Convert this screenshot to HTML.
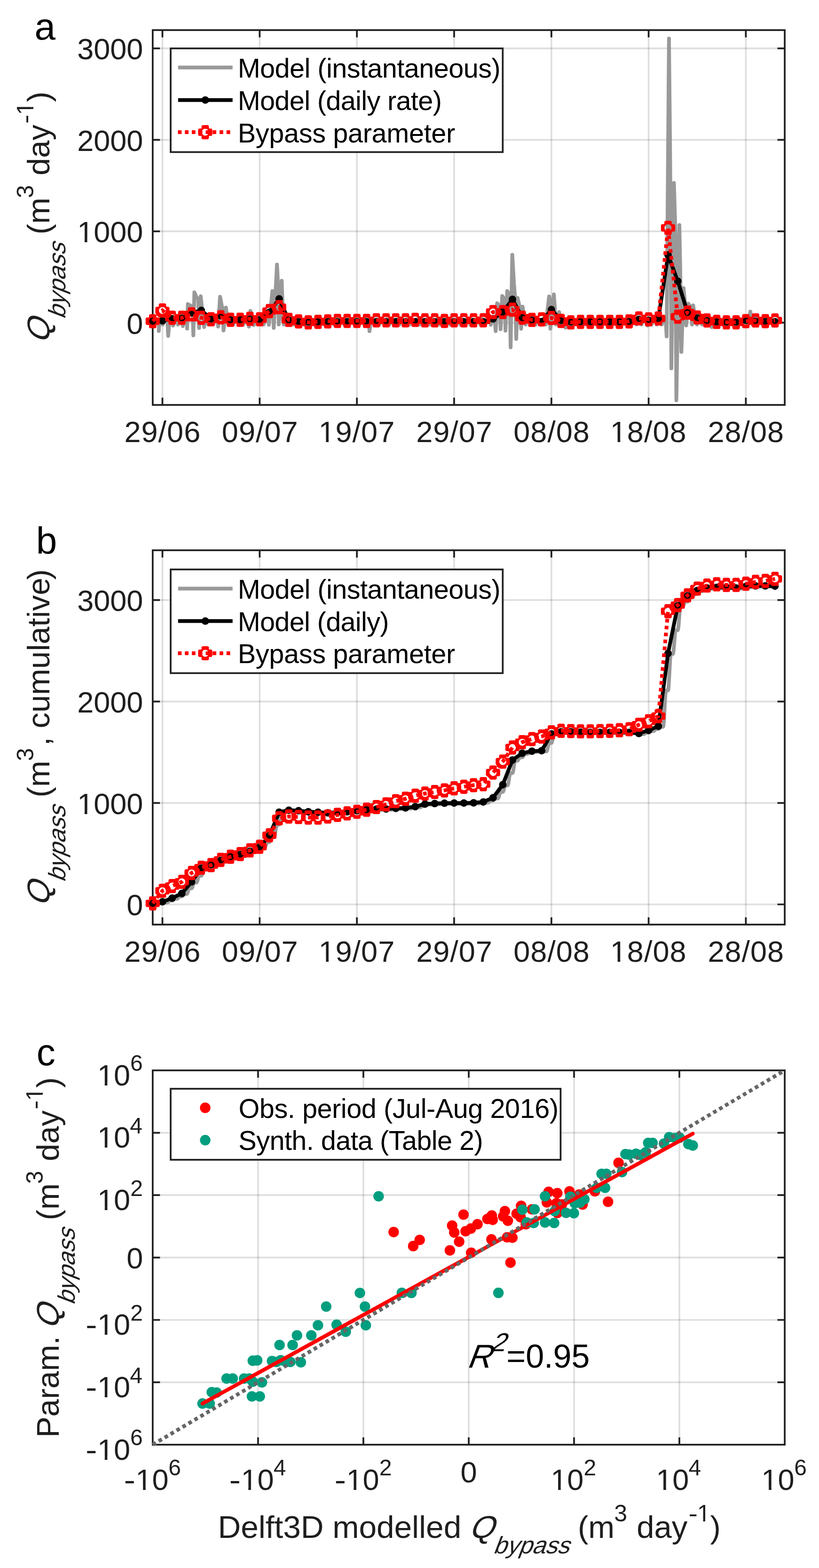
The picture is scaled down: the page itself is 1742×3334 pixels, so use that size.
<!DOCTYPE html>
<html lang="en"><head><meta charset="utf-8"><title>Bypass flux: model vs. parameterisation</title>
<style>html,body{margin:0;padding:0;background:#fff}svg{display:block}text{font-family:"Liberation Sans", Arial, Helvetica, sans-serif}</style>
</head><body>
<svg width="1742" height="3334" viewBox="0 0 1742 3334">
<rect width="1742" height="3334" fill="#fff"/>
<defs><path id="rm" d="M-4.30 -15.1H4.30Q7.9 -15.1 7.9 -11.50V-7.9H11.50Q15.1 -7.9 15.1 -4.30V4.30Q15.1 7.9 11.50 7.9H7.9V11.50Q7.9 15.1 4.30 15.1H-4.30Q-7.9 15.1 -7.9 11.50V7.9H-11.50Q-15.1 7.9 -15.1 4.30V-4.30Q-15.1 -7.9 -11.50 -7.9H-7.9V-11.50Q-7.9 -15.1 -4.30 -15.1ZM7.4 0A7.4 7.4 0 1 0 -7.4 0A7.4 7.4 0 1 0 7.4 0Z" fill="#f00" fill-rule="evenodd"/>
<clipPath id="ca"><rect x="324.8" y="64" width="1344.3" height="797"/></clipPath>
<clipPath id="cc"><rect x="324.8" y="2275.9" width="1344.3" height="795.9"/></clipPath>
<clipPath id="c1_50"><path clip-rule="evenodd" d="M-50 -200H900V100H-50ZM2.44 -4.88H12.55V3H2.44ZM17.02 -4.88H26.86V3H17.02Z"/></clipPath><clipPath id="c1_63"><path clip-rule="evenodd" d="M-50 -200H900V100H-50ZM3.08 -6.15H15.81V3H3.08ZM21.44 -6.15H33.84V3H21.44Z"/></clipPath></defs>
<g id="panel-a">
<line x1="345.5" y1="64" x2="345.5" y2="861" stroke="rgba(38,38,38,0.15)" stroke-width="3.7"/>
<line x1="552.3" y1="64" x2="552.3" y2="861" stroke="rgba(38,38,38,0.15)" stroke-width="3.7"/>
<line x1="759.1" y1="64" x2="759.1" y2="861" stroke="rgba(38,38,38,0.15)" stroke-width="3.7"/>
<line x1="965.9" y1="64" x2="965.9" y2="861" stroke="rgba(38,38,38,0.15)" stroke-width="3.7"/>
<line x1="1172.8" y1="64" x2="1172.8" y2="861" stroke="rgba(38,38,38,0.15)" stroke-width="3.7"/>
<line x1="1379.6" y1="64" x2="1379.6" y2="861" stroke="rgba(38,38,38,0.15)" stroke-width="3.7"/>
<line x1="1586.4" y1="64" x2="1586.4" y2="861" stroke="rgba(38,38,38,0.15)" stroke-width="3.7"/>
<line x1="324.8" y1="686.2" x2="1669.1" y2="686.2" stroke="rgba(38,38,38,0.15)" stroke-width="3.7"/>
<line x1="324.8" y1="491.8" x2="1669.1" y2="491.8" stroke="rgba(38,38,38,0.15)" stroke-width="3.7"/>
<line x1="324.8" y1="297.3" x2="1669.1" y2="297.3" stroke="rgba(38,38,38,0.15)" stroke-width="3.7"/>
<line x1="324.8" y1="102.9" x2="1669.1" y2="102.9" stroke="rgba(38,38,38,0.15)" stroke-width="3.7"/>
<path d="M345.5 861V845.5M345.5 64V79.5M552.3 861V845.5M552.3 64V79.5M759.1 861V845.5M759.1 64V79.5M965.9 861V845.5M965.9 64V79.5M1172.8 861V845.5M1172.8 64V79.5M1379.6 861V845.5M1379.6 64V79.5M1586.4 861V845.5M1586.4 64V79.5M324.8 686.2H340.3M1669.1 686.2H1653.6M324.8 491.8H340.3M1669.1 491.8H1653.6M324.8 297.3H340.3M1669.1 297.3H1653.6M324.8 102.9H340.3M1669.1 102.9H1653.6" stroke="#202020" stroke-width="3.7" fill="none"/>
<rect x="324.8" y="64" width="1344.3" height="797" fill="none" stroke="#202020" stroke-width="3.7"/>
<polyline points="324.9,690 328.5,679 333.4,679.5 338.3,679.9 337.7,703.8 339.2,679 342.2,679.5 344.4,679.9 346.3,690 349.9,679 353.2,679.5 355.9,679.9 357.8,714.2 360.6,679 363.8,679.5 366.3,679.9 368.2,692.3 371.4,679 374.4,679.5 376.7,679.9 378.6,690.3 382.1,679 385,679.5 387.1,679.9 389,693.4 392.8,679 396,679.5 398.6,679.9 398,698.6 399.5,646.6 404.5,649.5 409.4,651.4 411.3,713.1 413.4,621.6 417.6,631 421.5,636.7 423.4,697.5 426.9,630 430.2,660.9 432.9,679.9 434.2,695.5 435.7,679 438.7,679.5 440.9,679.9 442.8,690 446.4,679 449.4,679.5 451.6,679.9 453.5,690 457.1,679 460,679.5 462.1,679.9 464,694.4 468.1,631 471.2,647.6 473.5,657.8 475.4,702.7 480.6,653.9 482.7,670 483.8,679.9 485.7,690 489.3,679 492.3,679.5 494.5,679.9 496.4,690 500,679 503,679.5 505.2,679.9 507.1,690 510.7,679 513.7,679.5 515.9,679.9 517.8,690 521.4,679 524.8,679.5 527.6,679.9 529.5,694.4 532.6,661.1 535.7,672.7 538,679.9 539.9,691.3 542.9,679 545.9,679.5 548.1,679.9 550,690 553.6,679 556.6,679.5 558.8,679.9 560.7,690 564.3,679 567.5,679.5 570.1,679.9 572,690.6 579.4,618.8 580.6,623.8 580.3,626.9 582.2,697.2 589.1,562.6 590.7,590.6 591,607.7 592.9,690 599.1,597 601,648.4 601.7,679.9 603.6,690 607.2,679 610.2,679.5 612.4,679.9 614.3,690 617.9,679 620.9,679.5 623.1,679.9 625,690 628.6,679 631.6,679.5 633.9,679.9 635.8,690 639.4,679 642.4,679.5 644.6,679.9 646.5,690 650.1,679 653.1,679.5 655.3,679.9 657.2,690 660.8,679 663.8,679.5 666,679.9 667.9,690 671.5,679 674.5,679.5 676.7,679.9 678.6,690 682.2,679 685.2,679.5 687.5,679.9 689.4,690 693,679 696,679.5 698.2,679.9 700.1,690 703.7,679 706.7,679.5 708.9,679.9 710.8,690 714.4,679 717.4,679.5 719.6,679.9 721.5,690 725.1,679 728.1,679.5 730.3,679.9 732.2,690 735.8,679 738.8,679.5 741.1,679.9 743,690 746.6,679 749.6,679.5 751.8,679.9 753.7,690 757.3,679 760.3,679.5 762.5,679.9 764.4,690 768,679 771,679.5 773.2,679.9 775.1,690 778.7,679 781.7,679.5 784,679.9 785.9,704.1 789.4,679 792.4,679.5 794.7,679.9 796.6,690 800.2,679 803.2,679.5 805.4,679.9 807.3,690 810.9,679 813.9,679.5 816.1,679.9 818,690 821.6,679 824.6,679.5 826.8,679.9 828.7,690 832.3,679 835.3,679.5 837.5,679.9 839.4,690 843,679 846,679.5 848.3,679.9 850.2,690 853.8,679 856.8,679.5 859,679.9 860.9,690 864.5,679 867.5,679.5 869.7,679.9 871.6,690 875.2,679 878.2,679.5 880.4,679.9 882.3,690 885.9,679 888.9,679.5 891.1,679.9 893,690 896.6,679 899.6,679.5 901.9,679.9 903.8,690 907.4,679 910.4,679.5 912.6,679.9 914.5,690 918.1,679 921.1,679.5 923.3,679.9 925.2,690 928.8,679 931.8,679.5 934,679.9 935.9,690 939.5,679 942.5,679.5 944.7,679.9 946.6,690 950.2,679 953.2,679.5 955.5,679.9 957.4,690 961,679 964,679.5 966.2,679.9 968.1,690 971.7,679 974.7,679.5 976.9,679.9 978.8,690 982.4,679 985.4,679.5 987.6,679.9 989.5,690 993.1,679 996.1,679.5 998.3,679.9 1000.2,690 1003.8,679 1006.8,679.5 1009.1,679.9 1011,690 1014.6,679 1017.6,679.5 1019.8,679.9 1021.7,690 1025.3,679 1028.3,679.5 1030.5,679.9 1032.4,690 1036,679 1039.3,679.5 1042,679.9 1043.9,690.6 1046.7,679 1049.9,679.5 1052.4,679.9 1054.3,704.1 1057.4,644.8 1060.5,647.9 1062.8,649.8 1064.7,700 1068.2,629.2 1071.1,633.4 1073.2,636 1075.1,703.1 1078.8,618.8 1081.9,623.8 1084.2,626.9 1086.1,738.4 1089.6,541.8 1093.1,602.5 1096.1,639.7 1098,720.7 1101,633.4 1104.1,647.5 1106.5,656.1 1108.4,698.9 1111.5,652 1114.3,669.3 1116.3,679.9 1118.2,690 1121.8,679 1124.8,679.5 1127,679.9 1128.9,690 1132.5,679 1135.5,679.5 1137.7,679.9 1139.6,690 1143.2,679 1146.2,679.5 1148.4,679.9 1150.3,690 1153.9,679 1156.9,679.5 1159.1,679.9 1161,690 1168,630.3 1169.1,634.5 1168.8,637 1170.7,698.9 1178,626.1 1179.9,651 1180.6,666.2 1182.5,690 1189.4,663.5 1191,673.6 1191.3,679.9 1193.2,690 1196.8,679 1199.4,679.5 1201.1,679.9 1203,696.8 1207.5,679 1210.5,679.5 1212.7,679.9 1214.6,690 1218.2,679 1221.2,679.5 1223.5,679.9 1225.4,690 1229,679 1232,679.5 1234.2,679.9 1236.1,690 1239.7,679 1242.7,679.5 1244.9,679.9 1246.8,690 1250.4,679 1253.4,679.5 1255.6,679.9 1257.5,690 1261.1,679 1264.1,679.5 1266.3,679.9 1268.2,690 1271.8,679 1274.8,679.5 1277.1,679.9 1279,690 1282.6,679 1285.6,679.5 1287.8,679.9 1289.7,690 1293.3,679 1296.3,679.5 1298.5,679.9 1300.4,690 1304,679 1307,679.5 1309.2,679.9 1311.1,690 1314.7,679 1317.7,679.5 1319.9,679.9 1321.8,690 1325.4,679 1328.4,679.5 1330.7,679.9 1332.6,690 1336.2,679 1339.2,679.5 1341.4,679.9 1343.3,690 1346.9,679 1349.9,679.5 1352.1,679.9 1354,690 1357.6,679 1360.6,679.5 1362.8,679.9 1364.7,690 1368.3,679 1372.3,679.5 1375.8,679.9 1377.5,692.3 1379,679 1382,679.5 1384.3,679.9 1386.2,690 1389.8,679 1392.8,679.5 1395,679.9 1396.9,690 1400.5,679 1403.5,679.5 1405.7,679.9 1407.6,690 1411.2,679 1414,679.5 1416,679.9 1417.9,715.3 1422.9,82 1425,294.5 1426.1,424.8 1428,783.3 1433.4,389.1 1435.6,459.9 1436.7,503.3 1438.6,851.3 1445,478.4 1446.8,567 1447.4,621.3 1449.3,748.3 1453.8,612.4 1456.2,635.9 1457.6,650.3 1459.5,692 1463.9,645.4 1467.3,650.6 1470,653.7 1471.9,690 1474.2,649.3 1477.7,668.2 1480.7,679.9 1482.6,690 1486.2,679 1489.2,679.5 1491.5,679.9 1493.4,690 1497,679 1500,679.5 1502.2,679.9 1504.1,690 1507.7,679 1510.3,679.5 1512.1,679.9 1514,695.4 1518.4,679 1521.4,679.5 1523.6,679.9 1525.5,690 1529.1,679 1532.1,679.5 1534.3,679.9 1536.2,690 1539.8,679 1542.8,679.5 1545.1,679.9 1547,690 1550.6,679 1553.6,679.5 1555.8,679.9 1557.7,690 1561.3,679 1564.3,679.5 1566.5,679.9 1568.4,690 1572,679 1575,679.5 1577.2,679.9 1579.1,690 1582.7,679 1585.7,679.5 1587.9,679.9 1589.8,690 1596,662.4 1597.9,673.2 1598.7,679.9 1600.6,690 1604.2,679 1607.2,679.5 1609.4,679.9 1611.3,690 1614.9,679 1617.9,679.5 1620.1,679.9 1622,690 1625.6,679 1628.6,679.5 1630.8,679.9 1632.7,690 1636.3,679 1639.3,679.5 1641.5,679.9 1643.4,690 1647,679" fill="none" stroke="#999" stroke-width="8.0" stroke-linejoin="round" stroke-linecap="butt" clip-path="url(#ca)"/>
<polyline points="324.8,683 345.5,682 366.2,677.8 386.8,676.7 407.5,665.3 428.2,660.1 448.9,677.8 469.6,671.5 490.3,679.9 510.9,680 531.6,679 552.3,680 573,664 593.7,635.5 614.3,681.2 635,684.3 655.7,684.3 676.4,684.3 697.1,684.3 717.8,684.3 738.4,684.3 759.1,684.3 779.8,684.3 800.5,684.3 821.2,684.3 841.8,684.3 862.5,684.3 883.2,684.3 903.9,684.3 924.6,684.3 945.3,684.3 965.9,684.3 986.6,684.3 1007.3,684.3 1028,684.3 1048.7,678 1069.4,663.5 1090,636.5 1110.7,675 1131.4,681 1152.1,684 1172.8,658.3 1193.4,681.2 1214.1,684.3 1234.8,684.3 1255.5,684.3 1276.2,684.3 1296.9,684.3 1317.5,684.3 1338.2,684.3 1358.9,679.1 1379.6,681 1400.3,678 1420.9,542 1441.6,597.9 1462.3,664 1483,676 1503.7,682 1524.4,684.5 1545,684.5 1565.7,684.5 1586.4,681 1607.1,683 1627.8,684 1648.4,684" fill="none" stroke="#000" stroke-width="8.0" stroke-linejoin="round" stroke-linecap="butt" />
<circle cx="324.8" cy="683" r="8" fill="#000"/>
<circle cx="345.5" cy="682" r="8" fill="#000"/>
<circle cx="366.2" cy="677.8" r="8" fill="#000"/>
<circle cx="386.8" cy="676.7" r="8" fill="#000"/>
<circle cx="407.5" cy="665.3" r="8" fill="#000"/>
<circle cx="428.2" cy="660.1" r="8" fill="#000"/>
<circle cx="448.9" cy="677.8" r="8" fill="#000"/>
<circle cx="469.6" cy="671.5" r="8" fill="#000"/>
<circle cx="490.3" cy="679.9" r="8" fill="#000"/>
<circle cx="510.9" cy="680" r="8" fill="#000"/>
<circle cx="531.6" cy="679" r="8" fill="#000"/>
<circle cx="552.3" cy="680" r="8" fill="#000"/>
<circle cx="573" cy="664" r="8" fill="#000"/>
<circle cx="593.7" cy="635.5" r="8" fill="#000"/>
<circle cx="614.3" cy="681.2" r="8" fill="#000"/>
<circle cx="635" cy="684.3" r="8" fill="#000"/>
<circle cx="655.7" cy="684.3" r="8" fill="#000"/>
<circle cx="676.4" cy="684.3" r="8" fill="#000"/>
<circle cx="697.1" cy="684.3" r="8" fill="#000"/>
<circle cx="717.8" cy="684.3" r="8" fill="#000"/>
<circle cx="738.4" cy="684.3" r="8" fill="#000"/>
<circle cx="759.1" cy="684.3" r="8" fill="#000"/>
<circle cx="779.8" cy="684.3" r="8" fill="#000"/>
<circle cx="800.5" cy="684.3" r="8" fill="#000"/>
<circle cx="821.2" cy="684.3" r="8" fill="#000"/>
<circle cx="841.8" cy="684.3" r="8" fill="#000"/>
<circle cx="862.5" cy="684.3" r="8" fill="#000"/>
<circle cx="883.2" cy="684.3" r="8" fill="#000"/>
<circle cx="903.9" cy="684.3" r="8" fill="#000"/>
<circle cx="924.6" cy="684.3" r="8" fill="#000"/>
<circle cx="945.3" cy="684.3" r="8" fill="#000"/>
<circle cx="965.9" cy="684.3" r="8" fill="#000"/>
<circle cx="986.6" cy="684.3" r="8" fill="#000"/>
<circle cx="1007.3" cy="684.3" r="8" fill="#000"/>
<circle cx="1028" cy="684.3" r="8" fill="#000"/>
<circle cx="1048.7" cy="678" r="8" fill="#000"/>
<circle cx="1069.4" cy="663.5" r="8" fill="#000"/>
<circle cx="1090" cy="636.5" r="8" fill="#000"/>
<circle cx="1110.7" cy="675" r="8" fill="#000"/>
<circle cx="1131.4" cy="681" r="8" fill="#000"/>
<circle cx="1152.1" cy="684" r="8" fill="#000"/>
<circle cx="1172.8" cy="658.3" r="8" fill="#000"/>
<circle cx="1193.4" cy="681.2" r="8" fill="#000"/>
<circle cx="1214.1" cy="684.3" r="8" fill="#000"/>
<circle cx="1234.8" cy="684.3" r="8" fill="#000"/>
<circle cx="1255.5" cy="684.3" r="8" fill="#000"/>
<circle cx="1276.2" cy="684.3" r="8" fill="#000"/>
<circle cx="1296.9" cy="684.3" r="8" fill="#000"/>
<circle cx="1317.5" cy="684.3" r="8" fill="#000"/>
<circle cx="1338.2" cy="684.3" r="8" fill="#000"/>
<circle cx="1358.9" cy="679.1" r="8" fill="#000"/>
<circle cx="1379.6" cy="681" r="8" fill="#000"/>
<circle cx="1400.3" cy="678" r="8" fill="#000"/>
<circle cx="1420.9" cy="542" r="8" fill="#000"/>
<circle cx="1441.6" cy="597.9" r="8" fill="#000"/>
<circle cx="1462.3" cy="664" r="8" fill="#000"/>
<circle cx="1483" cy="676" r="8" fill="#000"/>
<circle cx="1503.7" cy="682" r="8" fill="#000"/>
<circle cx="1524.4" cy="684.5" r="8" fill="#000"/>
<circle cx="1545" cy="684.5" r="8" fill="#000"/>
<circle cx="1565.7" cy="684.5" r="8" fill="#000"/>
<circle cx="1586.4" cy="681" r="8" fill="#000"/>
<circle cx="1607.1" cy="683" r="8" fill="#000"/>
<circle cx="1627.8" cy="684" r="8" fill="#000"/>
<circle cx="1648.4" cy="684" r="8" fill="#000"/>
<polyline points="324.8,683 345.5,660.1 366.2,675.7 386.8,675.7 407.5,668.4 428.2,675.7 448.9,678.8 469.6,674.7 490.3,679.9 510.9,679.9 531.6,677.8 552.3,678.8 573,661.3 593.7,653.1 614.3,680.2 635,683.3 655.7,685.4 676.4,684.3 697.1,683.3 717.8,682.3 738.4,682.3 759.1,682.3 779.8,682.3 800.5,681.2 821.2,681.2 841.8,681.2 862.5,681.2 883.2,680.2 903.9,681.2 924.6,681.2 945.3,682.3 965.9,681.2 986.6,681.2 1007.3,681.2 1028,681.2 1048.7,663.5 1069.4,663.5 1090,658.3 1110.7,675.5 1131.4,680.2 1152.1,679.1 1172.8,676 1193.4,682.3 1214.1,685.4 1234.8,684.3 1255.5,684.3 1276.2,684.3 1296.9,684.3 1317.5,684.3 1338.2,683.3 1358.9,677 1379.6,679 1400.3,677.2 1420.9,484.5 1441.6,673.4 1462.3,664.6 1483,675 1503.7,681.3 1524.4,684.4 1545,685.3 1565.7,685.3 1586.4,682.8 1607.1,681.3 1627.8,682.8 1648.4,681.3" fill="none" stroke="#f00" stroke-width="8.0" stroke-linejoin="miter" stroke-linecap="butt" stroke-dasharray="7.7 7.06" />
<use href="#rm" x="324.8" y="683"/>
<use href="#rm" x="345.5" y="660.1"/>
<use href="#rm" x="366.2" y="675.7"/>
<use href="#rm" x="386.8" y="675.7"/>
<use href="#rm" x="407.5" y="668.4"/>
<use href="#rm" x="428.2" y="675.7"/>
<use href="#rm" x="448.9" y="678.8"/>
<use href="#rm" x="469.6" y="674.7"/>
<use href="#rm" x="490.3" y="679.9"/>
<use href="#rm" x="510.9" y="679.9"/>
<use href="#rm" x="531.6" y="677.8"/>
<use href="#rm" x="552.3" y="678.8"/>
<use href="#rm" x="573" y="661.3"/>
<use href="#rm" x="593.7" y="653.1"/>
<use href="#rm" x="614.3" y="680.2"/>
<use href="#rm" x="635" y="683.3"/>
<use href="#rm" x="655.7" y="685.4"/>
<use href="#rm" x="676.4" y="684.3"/>
<use href="#rm" x="697.1" y="683.3"/>
<use href="#rm" x="717.8" y="682.3"/>
<use href="#rm" x="738.4" y="682.3"/>
<use href="#rm" x="759.1" y="682.3"/>
<use href="#rm" x="779.8" y="682.3"/>
<use href="#rm" x="800.5" y="681.2"/>
<use href="#rm" x="821.2" y="681.2"/>
<use href="#rm" x="841.8" y="681.2"/>
<use href="#rm" x="862.5" y="681.2"/>
<use href="#rm" x="883.2" y="680.2"/>
<use href="#rm" x="903.9" y="681.2"/>
<use href="#rm" x="924.6" y="681.2"/>
<use href="#rm" x="945.3" y="682.3"/>
<use href="#rm" x="965.9" y="681.2"/>
<use href="#rm" x="986.6" y="681.2"/>
<use href="#rm" x="1007.3" y="681.2"/>
<use href="#rm" x="1028" y="681.2"/>
<use href="#rm" x="1048.7" y="663.5"/>
<use href="#rm" x="1069.4" y="663.5"/>
<use href="#rm" x="1090" y="658.3"/>
<use href="#rm" x="1110.7" y="675.5"/>
<use href="#rm" x="1131.4" y="680.2"/>
<use href="#rm" x="1152.1" y="679.1"/>
<use href="#rm" x="1172.8" y="676"/>
<use href="#rm" x="1193.4" y="682.3"/>
<use href="#rm" x="1214.1" y="685.4"/>
<use href="#rm" x="1234.8" y="684.3"/>
<use href="#rm" x="1255.5" y="684.3"/>
<use href="#rm" x="1276.2" y="684.3"/>
<use href="#rm" x="1296.9" y="684.3"/>
<use href="#rm" x="1317.5" y="684.3"/>
<use href="#rm" x="1338.2" y="683.3"/>
<use href="#rm" x="1358.9" y="677"/>
<use href="#rm" x="1379.6" y="679"/>
<use href="#rm" x="1400.3" y="677.2"/>
<use href="#rm" x="1420.9" y="484.5"/>
<use href="#rm" x="1441.6" y="673.4"/>
<use href="#rm" x="1462.3" y="664.6"/>
<use href="#rm" x="1483" y="675"/>
<use href="#rm" x="1503.7" y="681.3"/>
<use href="#rm" x="1524.4" y="684.4"/>
<use href="#rm" x="1545" y="685.3"/>
<use href="#rm" x="1565.7" y="685.3"/>
<use href="#rm" x="1586.4" y="682.8"/>
<use href="#rm" x="1607.1" y="681.3"/>
<use href="#rm" x="1627.8" y="682.8"/>
<use href="#rm" x="1648.4" y="681.3"/>
<text transform="translate(264.52 940.4)" font-size="63" fill="#1e1e1e" letter-spacing="1.0">29/06</text>
<text transform="translate(471.87 940.4)" font-size="63" fill="#1e1e1e" letter-spacing="1.0">09/07</text>
<text transform="translate(677.54 940.4)" font-size="63" fill="#1e1e1e" letter-spacing="1.0" clip-path="url(#c1_63)">19/07</text>
<text transform="translate(885.16 940.4)" font-size="63" fill="#1e1e1e" letter-spacing="1.0">29/07</text>
<text transform="translate(1092.15 940.4)" font-size="63" fill="#1e1e1e" letter-spacing="1.0">08/08</text>
<text transform="translate(1297.82 940.4)" font-size="63" fill="#1e1e1e" letter-spacing="1.0" clip-path="url(#c1_63)">18/08</text>
<text transform="translate(1505.45 940.4)" font-size="63" fill="#1e1e1e" letter-spacing="1.0">28/08</text>
<text transform="translate(269.15 709.6)" font-size="63" fill="#1e1e1e">0</text>
<text transform="translate(164.15 515.17)" font-size="63" fill="#1e1e1e" clip-path="url(#c1_63)">1000</text>
<text transform="translate(164.15 320.74)" font-size="63" fill="#1e1e1e">2000</text>
<text transform="translate(164.15 126.31)" font-size="63" fill="#1e1e1e">3000</text>
<rect x="363.0" y="102.9" width="706.3" height="220.49999999999997" fill="#fff" stroke="#202020" stroke-width="3.7"/>
<line x1="378.8" y1="143.5" x2="494.7" y2="143.5" stroke="#999" stroke-width="8.0"/>
<line x1="378.8" y1="212.7" x2="494.7" y2="212.7" stroke="#000" stroke-width="8.0"/>
<circle cx="436.7" cy="212.7" r="8" fill="#000"/>
<line x1="378.5" y1="281.1" x2="494.7" y2="281.1" stroke="#f00" stroke-width="8.0" stroke-dasharray="7.7 7.06"/>
<use href="#rm" x="436.5" y="281.1"/>
<text transform="translate(505.68 164.9)" font-size="57.5" fill="#000" letter-spacing="-0.503">Model (instantaneous)</text>
<text transform="translate(505.68 234.1)" font-size="57.5" fill="#000" letter-spacing="-0.594">Model (daily rate)</text>
<text transform="translate(505.68 302.5)" font-size="57.5" fill="#000" letter-spacing="-0.27">Bypass parameter</text>
<text transform="translate(105.4 731.13) rotate(-90) skewX(-21)" font-size="67" fill="#1e1e1e">Q</text>
<text transform="translate(139.3 679.34) rotate(-90) skewX(-21)" font-size="51" fill="#1e1e1e">bypass</text>
<text transform="translate(105.4 498.41) rotate(-90)" font-size="67" fill="#1e1e1e">(m</text>
<text transform="translate(71.1 421.14) rotate(-90)" font-size="50" fill="#1e1e1e">3</text>
<text transform="translate(105.4 373.05) rotate(-90)" font-size="67" fill="#1e1e1e">day</text>
<text transform="translate(71.1 262.94) rotate(-90)" font-size="50" fill="#1e1e1e" textLength="19.49" lengthAdjust="spacingAndGlyphs">-</text>
<text transform="translate(71.1 244.4) rotate(-90)" font-size="50" fill="#1e1e1e" clip-path="url(#c1_50)">1</text>
<text transform="translate(105.4 216.95) rotate(-90)" font-size="67" fill="#1e1e1e">)</text>
<text transform="translate(73.39 84.1)" font-size="80" fill="#000">a</text>
</g>
<g id="panel-b">
<line x1="345.5" y1="1170" x2="345.5" y2="1965.9" stroke="rgba(38,38,38,0.15)" stroke-width="3.7"/>
<line x1="552.3" y1="1170" x2="552.3" y2="1965.9" stroke="rgba(38,38,38,0.15)" stroke-width="3.7"/>
<line x1="759.1" y1="1170" x2="759.1" y2="1965.9" stroke="rgba(38,38,38,0.15)" stroke-width="3.7"/>
<line x1="965.9" y1="1170" x2="965.9" y2="1965.9" stroke="rgba(38,38,38,0.15)" stroke-width="3.7"/>
<line x1="1172.8" y1="1170" x2="1172.8" y2="1965.9" stroke="rgba(38,38,38,0.15)" stroke-width="3.7"/>
<line x1="1379.6" y1="1170" x2="1379.6" y2="1965.9" stroke="rgba(38,38,38,0.15)" stroke-width="3.7"/>
<line x1="1586.4" y1="1170" x2="1586.4" y2="1965.9" stroke="rgba(38,38,38,0.15)" stroke-width="3.7"/>
<line x1="324.8" y1="1923" x2="1669.1" y2="1923" stroke="rgba(38,38,38,0.15)" stroke-width="3.7"/>
<line x1="324.8" y1="1707.3" x2="1669.1" y2="1707.3" stroke="rgba(38,38,38,0.15)" stroke-width="3.7"/>
<line x1="324.8" y1="1491.6" x2="1669.1" y2="1491.6" stroke="rgba(38,38,38,0.15)" stroke-width="3.7"/>
<line x1="324.8" y1="1275.9" x2="1669.1" y2="1275.9" stroke="rgba(38,38,38,0.15)" stroke-width="3.7"/>
<path d="M345.5 1965.9V1950.4M345.5 1170V1185.5M552.3 1965.9V1950.4M552.3 1170V1185.5M759.1 1965.9V1950.4M759.1 1170V1185.5M965.9 1965.9V1950.4M965.9 1170V1185.5M1172.8 1965.9V1950.4M1172.8 1170V1185.5M1379.6 1965.9V1950.4M1379.6 1170V1185.5M1586.4 1965.9V1950.4M1586.4 1170V1185.5M324.8 1923H340.3M1669.1 1923H1653.6M324.8 1707.3H340.3M1669.1 1707.3H1653.6M324.8 1491.6H340.3M1669.1 1491.6H1653.6M324.8 1275.9H340.3M1669.1 1275.9H1653.6" stroke="#202020" stroke-width="3.7" fill="none"/>
<rect x="324.8" y="1170" width="1344.3" height="795.9" fill="none" stroke="#202020" stroke-width="3.7"/>
<polyline points="324.8,1920.8 333.5,1922.3 334.5,1922.3 335.6,1922.3 336.6,1922 337.6,1921.6 338.7,1921.2 339.7,1920.8 340.7,1920.6 341.8,1920.6 342.8,1920.6 343.8,1920.6 344.9,1920.6 345.9,1920.6 346.9,1920.3 348,1919.9 349,1919.5 350,1919.1 351.1,1918.9 352.1,1918.9 353.1,1918.9 354.2,1918.9 355.2,1918.9 356.2,1918.8 357.3,1918.3 358.3,1917.4 359.3,1916.3 360.4,1915.5 361.4,1915 362.4,1915 363.5,1915 364.5,1915 365.5,1915 366.6,1914.9 367.6,1914.4 368.6,1913.5 369.7,1912.4 370.7,1911.6 371.7,1911.1 372.8,1911.1 373.8,1911.1 374.9,1911.1 375.9,1911.1 376.9,1911 378,1910.3 379,1909.1 380,1907.8 381.1,1906.7 382.1,1906.1 383.1,1906.1 384.2,1906.1 385.2,1906.1 386.2,1906.1 387.3,1906 388.3,1905.3 389.3,1904.1 390.4,1902.8 391.4,1901.7 392.4,1901.1 393.5,1901.1 394.5,1901.1 395.5,1901.1 396.6,1901.1 397.6,1900.9 398.6,1899.2 399.7,1896.3 400.7,1893 401.7,1890.3 402.8,1888.9 403.8,1888.8 404.8,1888.8 405.9,1888.8 406.9,1888.8 407.9,1888.7 409,1886.9 410,1884 411,1880.8 412.1,1878 413.1,1876.6 414.1,1876.6 415.2,1876.6 416.2,1876.6 417.2,1876.6 418.3,1876.4 419.3,1874.3 420.4,1870.9 421.4,1867 422.4,1863.8 423.5,1862.1 424.5,1862 425.5,1862 426.6,1862 427.6,1862 428.6,1861.8 429.7,1859.8 430.7,1856.3 431.7,1852.5 432.8,1849.2 433.8,1847.6 434.8,1847.5 435.9,1847.5 436.9,1847.5 437.9,1847.5 439,1847.4 440,1846.9 441,1846 442.1,1845 443.1,1844.1 444.1,1843.7 445.2,1843.7 446.2,1843.7 447.2,1843.7 448.3,1843.7 449.3,1843.6 450.3,1843 451.4,1842.1 452.4,1841.1 453.4,1840.3 454.5,1839.8 455.5,1839.8 456.5,1839.8 457.6,1839.8 458.6,1839.8 459.6,1839.7 460.7,1839.1 461.7,1838 462.7,1836.9 463.8,1835.9 464.8,1835.4 465.9,1835.3 466.9,1835.3 467.9,1835.3 469,1835.3 470,1835.3 471,1834.7 472.1,1833.6 473.1,1832.4 474.1,1831.4 475.2,1830.9 476.2,1830.9 477.2,1830.9 478.3,1830.9 479.3,1830.9 480.3,1830.8 481.4,1830.3 482.4,1829.4 483.4,1828.3 484.5,1827.5 485.5,1827 486.5,1827 487.6,1827 488.6,1827 489.6,1827 490.7,1826.9 491.7,1826.4 492.7,1825.5 493.8,1824.4 494.8,1823.6 495.8,1823.1 496.9,1823.1 497.9,1823.1 498.9,1823.1 500,1823.1 501,1823.1 502,1822.7 503.1,1822.2 504.1,1821.6 505.1,1821.1 506.2,1820.8 507.2,1820.8 508.2,1820.8 509.3,1820.8 510.3,1820.8 511.4,1820.8 512.4,1820.4 513.4,1819.9 514.5,1819.3 515.5,1818.8 516.5,1818.5 517.6,1818.5 518.6,1818.5 519.6,1818.5 520.7,1818.5 521.7,1818.4 522.7,1818 523.8,1817.1 524.8,1816.2 525.8,1815.4 526.9,1815 527.9,1815 528.9,1815 530,1815 531,1815 532,1814.9 533.1,1814.5 534.1,1813.6 535.1,1812.7 536.2,1811.9 537.2,1811.5 538.2,1811.5 539.3,1811.5 540.3,1811.5 541.3,1811.5 542.4,1811.4 543.4,1810.8 544.4,1809.8 545.5,1808.7 546.5,1807.8 547.5,1807.3 548.6,1807.2 549.6,1807.2 550.6,1807.2 551.7,1807.2 552.7,1807.2 553.7,1806.6 554.8,1805.6 555.8,1804.5 556.9,1803.5 557.9,1803 558.9,1803 560,1803 561,1803 562,1803 563.1,1802.8 564.1,1801.1 565.1,1798.2 566.2,1794.9 567.2,1792.2 568.2,1790.8 569.3,1790.8 570.3,1790.8 571.3,1790.8 572.4,1790.8 573.4,1790.6 574.4,1788.8 575.5,1785.9 576.5,1782.7 577.5,1779.9 578.6,1778.5 579.6,1778.5 580.6,1778.5 581.7,1778.5 582.7,1778.5 583.7,1778.1 584.8,1774.6 585.8,1768.7 586.8,1762 587.9,1756.5 588.9,1753.6 589.9,1753.5 591,1753.5 592,1753.5 593,1753.5 594.1,1753.1 595.1,1749.6 596.1,1743.7 597.2,1737 598.2,1731.5 599.3,1728.6 600.3,1728.5 601.3,1728.5 602.4,1728.5 603.4,1728.5 604.4,1728.5 605.5,1728.2 606.5,1727.7 607.5,1727.1 608.6,1726.6 609.6,1726.4 610.6,1726.3 611.7,1726.3 612.7,1726.3 613.7,1726.3 614.8,1726.3 615.8,1726 616.8,1725.5 617.9,1724.9 618.9,1724.5 619.9,1724.2 621,1724.2 622,1724.2 623,1724.2 624.1,1724.2 625.1,1724.2 626.1,1724.3 627.2,1724.4 628.2,1724.6 629.2,1724.7 630.3,1724.7 631.3,1724.8 632.3,1724.8 633.4,1724.8 634.4,1724.8 635.4,1724.8 636.5,1724.8 637.5,1725 638.5,1725.1 639.6,1725.2 640.6,1725.3 641.6,1725.3 642.7,1725.3 643.7,1725.3 644.8,1725.3 645.8,1725.3 646.8,1725.5 647.9,1725.7 648.9,1726 649.9,1726.3 651,1726.4 652,1726.4 653,1726.4 654.1,1726.4 655.1,1726.4 656.1,1726.4 657.2,1726.6 658.2,1726.8 659.2,1727.1 660.3,1727.4 661.3,1727.5 662.3,1727.5 663.4,1727.5 664.4,1727.5 665.4,1727.5 666.5,1727.5 667.5,1727.6 668.5,1727.7 669.6,1727.8 670.6,1727.9 671.6,1728 672.7,1728 673.7,1728 674.7,1728 675.8,1728 676.8,1728 677.8,1728.1 678.9,1728.2 679.9,1728.3 680.9,1728.4 682,1728.5 683,1728.5 684,1728.5 685.1,1728.5 686.1,1728.5 687.1,1728.5 688.2,1728.6 689.2,1728.8 690.3,1728.9 691.3,1729.1 692.3,1729.1 693.4,1729.2 694.4,1729.2 695.4,1729.2 696.5,1729.2 697.5,1729.2 698.5,1729.3 699.6,1729.4 700.6,1729.6 701.6,1729.7 702.7,1729.8 703.7,1729.8 704.7,1729.8 705.8,1729.8 706.8,1729.8 707.8,1729.8 708.9,1729.7 709.9,1729.6 710.9,1729.4 712,1729.3 713,1729.3 714,1729.2 715.1,1729.2 716.1,1729.2 717.1,1729.2 718.2,1729.2 719.2,1729.2 720.2,1729 721.3,1728.9 722.3,1728.8 723.3,1728.7 724.4,1728.7 725.4,1728.7 726.4,1728.7 727.5,1728.7 728.5,1728.7 729.5,1728.6 730.6,1728.5 731.6,1728.3 732.6,1728.2 733.7,1728.1 734.7,1728.1 735.8,1728.1 736.8,1728.1 737.8,1728.1 738.9,1728.1 739.9,1728 740.9,1727.9 742,1727.7 743,1727.6 744,1727.5 745.1,1727.5 746.1,1727.5 747.1,1727.5 748.2,1727.5 749.2,1727.5 750.2,1727.3 751.3,1727.1 752.3,1726.8 753.3,1726.5 754.4,1726.4 755.4,1726.4 756.4,1726.4 757.5,1726.4 758.5,1726.4 759.5,1726.4 760.6,1726.2 761.6,1726 762.6,1725.7 763.7,1725.4 764.7,1725.3 765.7,1725.3 766.8,1725.3 767.8,1725.3 768.8,1725.3 769.9,1725.3 770.9,1725.1 771.9,1724.9 773,1724.6 774,1724.3 775,1724.2 776.1,1724.2 777.1,1724.2 778.1,1724.2 779.2,1724.2 780.2,1724.2 781.3,1724 782.3,1723.8 783.3,1723.5 784.4,1723.2 785.4,1723.1 786.4,1723.1 787.5,1723.1 788.5,1723.1 789.5,1723.1 790.6,1723.1 791.6,1723 792.6,1722.9 793.7,1722.7 794.7,1722.6 795.7,1722.6 796.8,1722.5 797.8,1722.5 798.8,1722.5 799.9,1722.5 800.9,1722.5 801.9,1722.5 803,1722.3 804,1722.2 805,1722.1 806.1,1722 807.1,1722 808.1,1722 809.2,1722 810.2,1722 811.2,1722 812.3,1722 813.3,1721.9 814.3,1721.8 815.4,1721.8 816.4,1721.8 817.4,1721.8 818.5,1721.8 819.5,1721.8 820.5,1721.8 821.6,1721.7 822.6,1721.7 823.6,1721.7 824.7,1721.6 825.7,1721.5 826.8,1721.5 827.8,1721.5 828.8,1721.5 829.9,1721.5 830.9,1721.5 831.9,1721.5 833,1721.4 834,1721.3 835,1721.1 836.1,1721 837.1,1720.9 838.1,1720.9 839.2,1720.9 840.2,1720.9 841.2,1720.9 842.3,1720.9 843.3,1720.8 844.3,1720.7 845.4,1720.5 846.4,1720.4 847.4,1720.3 848.5,1720.3 849.5,1720.3 850.5,1720.3 851.6,1720.3 852.6,1720.3 853.6,1720.2 854.7,1720.1 855.7,1720 856.7,1719.9 857.8,1719.8 858.8,1719.8 859.8,1719.8 860.9,1719.8 861.9,1719.8 862.9,1719.8 864,1719.7 865,1719.6 866,1719.5 867.1,1719.4 868.1,1719.3 869.2,1719.3 870.2,1719.3 871.2,1719.3 872.3,1719.3 873.3,1719.3 874.3,1719.1 875.4,1718.8 876.4,1718.4 877.4,1718.2 878.5,1718 879.5,1718 880.5,1718 881.6,1718 882.6,1718 883.6,1718 884.7,1717.8 885.7,1717.5 886.7,1717.1 887.8,1716.9 888.8,1716.7 889.8,1716.7 890.9,1716.7 891.9,1716.7 892.9,1716.7 894,1716.7 895,1716.3 896,1715.6 897.1,1714.9 898.1,1714.2 899.1,1713.9 900.2,1713.9 901.2,1713.9 902.2,1713.9 903.3,1713.9 904.3,1713.9 905.3,1713.5 906.4,1712.8 907.4,1712.1 908.4,1711.4 909.5,1711.1 910.5,1711.1 911.5,1711.1 912.6,1711.1 913.6,1711.1 914.7,1711.1 915.7,1711 916.7,1710.9 917.8,1710.7 918.8,1710.6 919.8,1710.6 920.9,1710.5 921.9,1710.5 922.9,1710.5 924,1710.5 925,1710.5 926,1710.5 927.1,1710.3 928.1,1710.2 929.1,1710.1 930.2,1710 931.2,1710 932.2,1710 933.3,1710 934.3,1710 935.3,1710 936.4,1709.9 937.4,1709.9 938.4,1709.8 939.5,1709.7 940.5,1709.7 941.5,1709.7 942.6,1709.7 943.6,1709.7 944.6,1709.7 945.7,1709.6 946.7,1709.6 947.7,1709.5 948.8,1709.4 949.8,1709.3 950.8,1709.3 951.9,1709.3 952.9,1709.3 953.9,1709.3 955,1709.3 956,1709.3 957,1709.3 958.1,1709.2 959.1,1709.2 960.2,1709.1 961.2,1709.1 962.2,1709.1 963.3,1709.1 964.3,1709.1 965.3,1709.1 966.4,1709.1 967.4,1709.1 968.4,1709 969.5,1709 970.5,1708.9 971.5,1708.9 972.6,1708.9 973.6,1708.9 974.6,1708.9 975.7,1708.9 976.7,1708.9 977.7,1708.9 978.8,1708.9 979.8,1708.9 980.8,1708.9 981.9,1708.9 982.9,1708.9 983.9,1708.9 985,1708.9 986,1708.9 987,1708.9 988.1,1708.9 989.1,1708.9 990.1,1708.9 991.2,1708.9 992.2,1708.9 993.2,1708.9 994.3,1708.9 995.3,1708.9 996.3,1708.9 997.4,1708.9 998.4,1708.9 999.4,1708.8 1000.5,1708.8 1001.5,1708.7 1002.5,1708.7 1003.6,1708.7 1004.6,1708.7 1005.7,1708.7 1006.7,1708.7 1007.7,1708.7 1008.8,1708.7 1009.8,1708.6 1010.8,1708.6 1011.9,1708.5 1012.9,1708.5 1013.9,1708.5 1015,1708.5 1016,1708.5 1017,1708.5 1018.1,1708.5 1019.1,1708.4 1020.1,1708.1 1021.2,1707.9 1022.2,1707.7 1023.2,1707.6 1024.3,1707.6 1025.3,1707.6 1026.3,1707.6 1027.4,1707.6 1028.4,1707.6 1029.4,1707.5 1030.5,1707.2 1031.5,1707 1032.5,1706.8 1033.6,1706.7 1034.6,1706.7 1035.6,1706.7 1036.7,1706.7 1037.7,1706.7 1038.7,1706.6 1039.8,1706 1040.8,1704.9 1041.8,1703.7 1042.9,1702.7 1043.9,1702.2 1044.9,1702.2 1046,1702.2 1047,1702.2 1048,1702.2 1049.1,1702.1 1050.1,1701.5 1051.2,1700.4 1052.2,1699.2 1053.2,1698.2 1054.3,1697.7 1055.3,1697.7 1056.3,1697.7 1057.4,1697.7 1058.4,1697.7 1059.4,1697.5 1060.5,1695.5 1061.5,1692.2 1062.5,1688.6 1063.6,1685.4 1064.6,1683.9 1065.6,1683.8 1066.7,1683.8 1067.7,1683.8 1068.7,1683.8 1069.8,1683.6 1070.8,1681.6 1071.8,1678.3 1072.9,1674.7 1073.9,1671.5 1074.9,1670 1076,1669.9 1077,1669.9 1078,1669.9 1079.1,1669.9 1080.1,1669.5 1081.1,1665.8 1082.2,1659.6 1083.2,1652.7 1084.2,1646.8 1085.3,1643.8 1086.3,1643.7 1087.3,1643.7 1088.4,1643.7 1089.4,1643.7 1090.4,1643.3 1091.5,1639.6 1092.5,1633.4 1093.5,1626.5 1094.6,1620.6 1095.6,1617.6 1096.7,1617.5 1097.7,1617.5 1098.7,1617.5 1099.8,1617.5 1100.8,1617.4 1101.8,1616.4 1102.9,1614.6 1103.9,1612.7 1104.9,1611.1 1106,1610.3 1107,1610.2 1108,1610.2 1109.1,1610.2 1110.1,1610.2 1111.1,1610.1 1112.2,1609.1 1113.2,1607.4 1114.2,1605.5 1115.3,1603.9 1116.3,1603 1117.3,1603 1118.4,1603 1119.4,1603 1120.4,1603 1121.5,1603 1122.5,1602.7 1123.5,1602.2 1124.6,1601.6 1125.6,1601.1 1126.6,1600.9 1127.7,1600.8 1128.7,1600.8 1129.7,1600.8 1130.8,1600.8 1131.8,1600.8 1132.8,1600.5 1133.9,1600 1134.9,1599.4 1135.9,1599 1137,1598.7 1138,1598.7 1139.1,1598.7 1140.1,1598.7 1141.1,1598.7 1142.2,1598.7 1143.2,1598.6 1144.2,1598.5 1145.3,1598.4 1146.3,1598.3 1147.3,1598.2 1148.4,1598.2 1149.4,1598.2 1150.4,1598.2 1151.5,1598.2 1152.5,1598.2 1153.5,1598.1 1154.6,1598 1155.6,1597.9 1156.6,1597.8 1157.7,1597.7 1158.7,1597.7 1159.7,1597.7 1160.8,1597.7 1161.8,1597.7 1162.8,1597.4 1163.9,1594.9 1164.9,1590.7 1165.9,1586 1167,1582 1168,1579.9 1169,1579.8 1170.1,1579.8 1171.1,1579.8 1172.1,1579.8 1173.2,1579.6 1174.2,1577.1 1175.2,1572.8 1176.3,1568.1 1177.3,1564.1 1178.3,1562.1 1179.4,1562 1180.4,1562 1181.4,1562 1182.5,1562 1183.5,1562 1184.6,1561.6 1185.6,1561.1 1186.6,1560.5 1187.7,1560 1188.7,1559.8 1189.7,1559.8 1190.8,1559.8 1191.8,1559.8 1192.8,1559.8 1193.9,1559.7 1194.9,1559.4 1195.9,1558.9 1197,1558.3 1198,1557.8 1199,1557.5 1200.1,1557.5 1201.1,1557.5 1202.1,1557.5 1203.2,1557.5 1204.2,1557.5 1205.2,1557.5 1206.3,1557.5 1207.3,1557.5 1208.3,1557.5 1209.4,1557.5 1210.4,1557.5 1211.4,1557.5 1212.5,1557.5 1213.5,1557.5 1214.5,1557.5 1215.6,1557.5 1216.6,1557.5 1217.6,1557.5 1218.7,1557.5 1219.7,1557.5 1220.7,1557.5 1221.8,1557.5 1222.8,1557.5 1223.8,1557.5 1224.9,1557.5 1225.9,1557.6 1226.9,1557.6 1228,1557.7 1229,1557.8 1230.1,1557.8 1231.1,1557.8 1232.1,1557.8 1233.2,1557.8 1234.2,1557.8 1235.2,1557.9 1236.3,1557.9 1237.3,1558 1238.3,1558.1 1239.4,1558.2 1240.4,1558.2 1241.4,1558.2 1242.5,1558.2 1243.5,1558.2 1244.5,1558.2 1245.6,1558.2 1246.6,1558.2 1247.6,1558.3 1248.7,1558.4 1249.7,1558.4 1250.7,1558.4 1251.8,1558.5 1252.8,1558.5 1253.8,1558.5 1254.9,1558.5 1255.9,1558.5 1256.9,1558.5 1258,1558.5 1259,1558.6 1260,1558.7 1261.1,1558.7 1262.1,1558.7 1263.1,1558.7 1264.2,1558.7 1265.2,1558.7 1266.2,1558.7 1267.3,1558.7 1268.3,1558.7 1269.3,1558.7 1270.4,1558.7 1271.4,1558.7 1272.4,1558.7 1273.5,1558.7 1274.5,1558.7 1275.6,1558.7 1276.6,1558.7 1277.6,1558.7 1278.7,1558.7 1279.7,1558.7 1280.7,1558.7 1281.8,1558.7 1282.8,1558.7 1283.8,1558.7 1284.9,1558.7 1285.9,1558.7 1286.9,1558.7 1288,1558.7 1289,1558.7 1290,1558.7 1291.1,1558.7 1292.1,1558.7 1293.1,1558.7 1294.2,1558.7 1295.2,1558.7 1296.2,1558.7 1297.3,1558.7 1298.3,1558.7 1299.3,1558.7 1300.4,1558.7 1301.4,1558.7 1302.4,1558.7 1303.5,1558.7 1304.5,1558.7 1305.5,1558.7 1306.6,1558.7 1307.6,1558.7 1308.6,1558.7 1309.7,1558.7 1310.7,1558.7 1311.7,1558.7 1312.8,1558.7 1313.8,1558.7 1314.8,1558.7 1315.9,1558.7 1316.9,1558.7 1317.9,1558.7 1319,1558.7 1320,1558.7 1321.1,1558.7 1322.1,1558.7 1323.1,1558.7 1324.2,1558.7 1325.2,1558.7 1326.2,1558.7 1327.3,1558.7 1328.3,1558.7 1329.3,1558.7 1330.4,1558.7 1331.4,1558.7 1332.4,1558.7 1333.5,1558.7 1334.5,1558.7 1335.5,1558.7 1336.6,1558.7 1337.6,1558.7 1338.6,1558.7 1339.7,1558.7 1340.7,1558.7 1341.7,1558.7 1342.8,1558.7 1343.8,1558.7 1344.8,1558.7 1345.9,1558.7 1346.9,1558.7 1347.9,1558.7 1349,1558.7 1350,1558.9 1351,1559.2 1352.1,1559.5 1353.1,1559.7 1354.1,1559.8 1355.2,1559.8 1356.2,1559.8 1357.2,1559.8 1358.3,1559.8 1359.3,1559.9 1360.3,1560 1361.4,1560.3 1362.4,1560.6 1363.5,1560.9 1364.5,1561 1365.5,1561 1366.6,1561 1367.6,1561 1368.6,1561 1369.7,1561 1370.7,1560.5 1371.7,1559.7 1372.8,1558.8 1373.8,1558.1 1374.8,1557.7 1375.9,1557.7 1376.9,1557.7 1377.9,1557.7 1379,1557.7 1380,1557.7 1381,1557.2 1382.1,1556.4 1383.1,1555.5 1384.1,1554.8 1385.2,1554.4 1386.2,1554.4 1387.2,1554.4 1388.3,1554.4 1389.3,1554.4 1390.3,1554.3 1391.4,1553.7 1392.4,1552.6 1393.4,1551.5 1394.5,1550.5 1395.5,1550 1396.5,1550 1397.6,1550 1398.6,1550 1399.6,1550 1400.7,1549.9 1401.7,1549.3 1402.7,1548.2 1403.8,1547 1404.8,1546 1405.8,1545.5 1406.9,1545.5 1407.9,1545.5 1409,1545.5 1410,1545.5 1411,1544.4 1412.1,1533.4 1413.1,1515.1 1414.1,1494.6 1415.2,1477.3 1416.2,1468.4 1417.2,1468.2 1418.3,1468.2 1419.3,1468.2 1420.3,1468.2 1421.4,1467 1422.4,1456.1 1423.4,1437.7 1424.5,1417.2 1425.5,1399.9 1426.5,1391.1 1427.6,1390.8 1428.6,1390.8 1429.6,1390.8 1430.7,1390.8 1431.7,1390.1 1432.7,1382.9 1433.8,1370.8 1434.8,1357.4 1435.8,1346.1 1436.9,1340.3 1437.9,1340.1 1438.9,1340.1 1440,1340.1 1441,1340.1 1442,1339.4 1443.1,1332.2 1444.1,1320.1 1445.1,1306.7 1446.2,1295.4 1447.2,1289.6 1448.2,1289.4 1449.3,1289.4 1450.3,1289.4 1451.3,1289.4 1452.4,1289.2 1453.4,1287.8 1454.5,1285.3 1455.5,1282.6 1456.5,1280.2 1457.6,1279 1458.6,1279 1459.6,1279 1460.7,1279 1461.7,1279 1462.7,1278.8 1463.8,1277.4 1464.8,1274.9 1465.8,1272.2 1466.9,1269.8 1467.9,1268.6 1468.9,1268.6 1470,1268.6 1471,1268.6 1472,1268.6 1473.1,1268.5 1474.1,1267.7 1475.1,1266.3 1476.2,1264.7 1477.2,1263.4 1478.2,1262.8 1479.3,1262.8 1480.3,1262.8 1481.3,1262.8 1482.4,1262.8 1483.4,1262.7 1484.4,1261.8 1485.5,1260.4 1486.5,1258.9 1487.5,1257.6 1488.6,1256.9 1489.6,1256.9 1490.6,1256.9 1491.7,1256.9 1492.7,1256.9 1493.7,1256.9 1494.8,1256.5 1495.8,1255.9 1496.8,1255.2 1497.9,1254.6 1498.9,1254.3 1500,1254.3 1501,1254.3 1502,1254.3 1503.1,1254.3 1504.1,1254.3 1505.1,1253.9 1506.2,1253.3 1507.2,1252.6 1508.2,1252 1509.3,1251.7 1510.3,1251.7 1511.3,1251.7 1512.4,1251.7 1513.4,1251.7 1514.4,1251.7 1515.5,1251.6 1516.5,1251.4 1517.5,1251.3 1518.6,1251.1 1519.6,1251.1 1520.6,1251.1 1521.7,1251.1 1522.7,1251.1 1523.7,1251.1 1524.8,1251 1525.8,1250.9 1526.8,1250.8 1527.9,1250.6 1528.9,1250.5 1529.9,1250.4 1531,1250.4 1532,1250.4 1533,1250.4 1534.1,1250.4 1535.1,1250.4 1536.1,1250.4 1537.2,1250.4 1538.2,1250.4 1539.2,1250.4 1540.3,1250.4 1541.3,1250.4 1542.3,1250.4 1543.4,1250.4 1544.4,1250.4 1545.5,1250.4 1546.5,1250.4 1547.5,1250.4 1548.6,1250.4 1549.6,1250.4 1550.6,1250.4 1551.7,1250.4 1552.7,1250.4 1553.7,1250.4 1554.8,1250.4 1555.8,1250.4 1556.8,1250.5 1557.9,1250.7 1558.9,1250.8 1559.9,1251 1561,1251 1562,1251.1 1563,1251.1 1564.1,1251.1 1565.1,1251.1 1566.1,1251.1 1567.2,1251.2 1568.2,1251.3 1569.2,1251.5 1570.3,1251.6 1571.3,1251.7 1572.3,1251.7 1573.4,1251.7 1574.4,1251.7 1575.4,1251.7 1576.5,1251.7 1577.5,1251.5 1578.5,1251.1 1579.6,1250.6 1580.6,1250.3 1581.6,1250.1 1582.7,1250.1 1583.7,1250.1 1584.7,1250.1 1585.8,1250.1 1586.8,1250.1 1587.8,1249.8 1588.9,1249.5 1589.9,1249 1591,1248.7 1592,1248.5 1593,1248.5 1594.1,1248.5 1595.1,1248.5 1596.1,1248.5 1597.2,1248.5 1598.2,1248.4 1599.2,1248.3 1600.3,1248.1 1601.3,1248 1602.3,1247.9 1603.4,1247.9 1604.4,1247.9 1605.4,1247.9 1606.5,1247.9 1607.5,1247.9 1608.5,1247.8 1609.6,1247.7 1610.6,1247.5 1611.6,1247.4 1612.7,1247.3 1613.7,1247.3 1614.7,1247.3 1615.8,1247.3 1616.8,1247.3 1617.8,1247.3 1618.9,1247.3 1619.9,1247.3 1620.9,1247.3 1622,1247.3 1623,1247.3 1624,1247.3 1625.1,1247.3 1626.1,1247.3 1627.1,1247.3 1628.2,1247.3 1629.2,1247.3 1630.2,1247.3 1631.3,1247.3 1632.3,1247.3 1633.4,1247.3 1634.4,1247.3 1635.4,1247.3 1636.5,1247.3 1637.5,1247.3 1638.5,1247.3 1639.6,1247.3 1640.6,1247.4 1641.6,1247.4 1642.7,1247.5 1643.7,1247.5 1644.7,1247.5 1645.8,1247.5 1646.8,1247.5 1647.8,1247.5 1648.9,1247.5 1649.9,1247.5" fill="none" stroke="#999" stroke-width="8.0" stroke-linejoin="round" stroke-linecap="butt" />
<polyline points="324.8,1920.8 345.5,1917.4 366.2,1909.6 386.8,1899.6 407.5,1875.1 428.2,1846 448.9,1838.3 469.6,1829.4 490.3,1821.6 510.9,1817 531.6,1810 552.3,1801.5 573,1777 593.7,1727 614.3,1722.7 635,1723.8 655.7,1726 676.4,1727 697.1,1728.3 717.8,1727.2 738.4,1726 759.1,1723.8 779.8,1721.6 800.5,1720.5 821.2,1720 841.8,1718.8 862.5,1717.8 883.2,1715.2 903.9,1709.6 924.6,1708.5 945.3,1707.8 965.9,1707.4 986.6,1707.4 1007.3,1707 1028,1705.2 1048.7,1696.2 1069.4,1668.4 1090,1616 1110.7,1601.5 1131.4,1597.2 1152.1,1596.2 1172.8,1560.5 1193.4,1556 1214.1,1556 1234.8,1556.7 1255.5,1557.2 1276.2,1557.2 1296.9,1557.2 1317.5,1557.2 1338.2,1557.2 1358.9,1559.5 1379.6,1552.9 1400.3,1544 1420.9,1389.3 1441.6,1287.9 1462.3,1267.1 1483,1255.4 1503.7,1250.2 1524.4,1248.9 1545,1248.9 1565.7,1250.2 1586.4,1247 1607.1,1245.8 1627.8,1245.8 1648.4,1246.2" fill="none" stroke="#000" stroke-width="8.0" stroke-linejoin="round" stroke-linecap="butt" />
<circle cx="324.8" cy="1920.8" r="8" fill="#000"/>
<circle cx="345.5" cy="1917.4" r="8" fill="#000"/>
<circle cx="366.2" cy="1909.6" r="8" fill="#000"/>
<circle cx="386.8" cy="1899.6" r="8" fill="#000"/>
<circle cx="407.5" cy="1875.1" r="8" fill="#000"/>
<circle cx="428.2" cy="1846" r="8" fill="#000"/>
<circle cx="448.9" cy="1838.3" r="8" fill="#000"/>
<circle cx="469.6" cy="1829.4" r="8" fill="#000"/>
<circle cx="490.3" cy="1821.6" r="8" fill="#000"/>
<circle cx="510.9" cy="1817" r="8" fill="#000"/>
<circle cx="531.6" cy="1810" r="8" fill="#000"/>
<circle cx="552.3" cy="1801.5" r="8" fill="#000"/>
<circle cx="573" cy="1777" r="8" fill="#000"/>
<circle cx="593.7" cy="1727" r="8" fill="#000"/>
<circle cx="614.3" cy="1722.7" r="8" fill="#000"/>
<circle cx="635" cy="1723.8" r="8" fill="#000"/>
<circle cx="655.7" cy="1726" r="8" fill="#000"/>
<circle cx="676.4" cy="1727" r="8" fill="#000"/>
<circle cx="697.1" cy="1728.3" r="8" fill="#000"/>
<circle cx="717.8" cy="1727.2" r="8" fill="#000"/>
<circle cx="738.4" cy="1726" r="8" fill="#000"/>
<circle cx="759.1" cy="1723.8" r="8" fill="#000"/>
<circle cx="779.8" cy="1721.6" r="8" fill="#000"/>
<circle cx="800.5" cy="1720.5" r="8" fill="#000"/>
<circle cx="821.2" cy="1720" r="8" fill="#000"/>
<circle cx="841.8" cy="1718.8" r="8" fill="#000"/>
<circle cx="862.5" cy="1717.8" r="8" fill="#000"/>
<circle cx="883.2" cy="1715.2" r="8" fill="#000"/>
<circle cx="903.9" cy="1709.6" r="8" fill="#000"/>
<circle cx="924.6" cy="1708.5" r="8" fill="#000"/>
<circle cx="945.3" cy="1707.8" r="8" fill="#000"/>
<circle cx="965.9" cy="1707.4" r="8" fill="#000"/>
<circle cx="986.6" cy="1707.4" r="8" fill="#000"/>
<circle cx="1007.3" cy="1707" r="8" fill="#000"/>
<circle cx="1028" cy="1705.2" r="8" fill="#000"/>
<circle cx="1048.7" cy="1696.2" r="8" fill="#000"/>
<circle cx="1069.4" cy="1668.4" r="8" fill="#000"/>
<circle cx="1090" cy="1616" r="8" fill="#000"/>
<circle cx="1110.7" cy="1601.5" r="8" fill="#000"/>
<circle cx="1131.4" cy="1597.2" r="8" fill="#000"/>
<circle cx="1152.1" cy="1596.2" r="8" fill="#000"/>
<circle cx="1172.8" cy="1560.5" r="8" fill="#000"/>
<circle cx="1193.4" cy="1556" r="8" fill="#000"/>
<circle cx="1214.1" cy="1556" r="8" fill="#000"/>
<circle cx="1234.8" cy="1556.7" r="8" fill="#000"/>
<circle cx="1255.5" cy="1557.2" r="8" fill="#000"/>
<circle cx="1276.2" cy="1557.2" r="8" fill="#000"/>
<circle cx="1296.9" cy="1557.2" r="8" fill="#000"/>
<circle cx="1317.5" cy="1557.2" r="8" fill="#000"/>
<circle cx="1338.2" cy="1557.2" r="8" fill="#000"/>
<circle cx="1358.9" cy="1559.5" r="8" fill="#000"/>
<circle cx="1379.6" cy="1552.9" r="8" fill="#000"/>
<circle cx="1400.3" cy="1544" r="8" fill="#000"/>
<circle cx="1420.9" cy="1389.3" r="8" fill="#000"/>
<circle cx="1441.6" cy="1287.9" r="8" fill="#000"/>
<circle cx="1462.3" cy="1267.1" r="8" fill="#000"/>
<circle cx="1483" cy="1255.4" r="8" fill="#000"/>
<circle cx="1503.7" cy="1250.2" r="8" fill="#000"/>
<circle cx="1524.4" cy="1248.9" r="8" fill="#000"/>
<circle cx="1545" cy="1248.9" r="8" fill="#000"/>
<circle cx="1565.7" cy="1250.2" r="8" fill="#000"/>
<circle cx="1586.4" cy="1247" r="8" fill="#000"/>
<circle cx="1607.1" cy="1245.8" r="8" fill="#000"/>
<circle cx="1627.8" cy="1245.8" r="8" fill="#000"/>
<circle cx="1648.4" cy="1246.2" r="8" fill="#000"/>
<polyline points="324.8,1920.8 345.5,1894 366.2,1884 386.8,1875 407.5,1856.1 428.2,1845 448.9,1839.4 469.6,1828.3 490.3,1821.6 510.9,1816 531.6,1808.2 552.3,1800.4 573,1776 593.7,1740 614.3,1736.1 635,1737.2 655.7,1738.3 676.4,1738.3 697.1,1736.1 717.8,1732.7 738.4,1729.4 759.1,1726 779.8,1721.6 800.5,1716 821.2,1710.4 841.8,1703.5 862.5,1698.3 883.2,1691.8 903.9,1687.3 924.6,1684 945.3,1680.6 965.9,1676.2 986.6,1672.8 1007.3,1669.5 1028,1667.3 1048.7,1642.7 1069.4,1619.3 1090,1589.3 1110.7,1578.1 1131.4,1571.5 1152.1,1566.1 1172.8,1557.2 1193.4,1553.8 1214.1,1554.5 1234.8,1555 1255.5,1555 1276.2,1554.5 1296.9,1553.8 1317.5,1552.7 1338.2,1550.5 1358.9,1541 1379.6,1533.7 1400.3,1522.7 1420.9,1299.6 1441.6,1286.6 1462.3,1265.8 1483,1251.5 1503.7,1245 1524.4,1242.4 1545,1243.7 1565.7,1243.7 1586.4,1241.1 1607.1,1237.2 1627.8,1235.2 1648.4,1230.8" fill="none" stroke="#f00" stroke-width="8.0" stroke-linejoin="miter" stroke-linecap="butt" stroke-dasharray="7.7 7.06" />
<use href="#rm" x="324.8" y="1920.8"/>
<use href="#rm" x="345.5" y="1894"/>
<use href="#rm" x="366.2" y="1884"/>
<use href="#rm" x="386.8" y="1875"/>
<use href="#rm" x="407.5" y="1856.1"/>
<use href="#rm" x="428.2" y="1845"/>
<use href="#rm" x="448.9" y="1839.4"/>
<use href="#rm" x="469.6" y="1828.3"/>
<use href="#rm" x="490.3" y="1821.6"/>
<use href="#rm" x="510.9" y="1816"/>
<use href="#rm" x="531.6" y="1808.2"/>
<use href="#rm" x="552.3" y="1800.4"/>
<use href="#rm" x="573" y="1776"/>
<use href="#rm" x="593.7" y="1740"/>
<use href="#rm" x="614.3" y="1736.1"/>
<use href="#rm" x="635" y="1737.2"/>
<use href="#rm" x="655.7" y="1738.3"/>
<use href="#rm" x="676.4" y="1738.3"/>
<use href="#rm" x="697.1" y="1736.1"/>
<use href="#rm" x="717.8" y="1732.7"/>
<use href="#rm" x="738.4" y="1729.4"/>
<use href="#rm" x="759.1" y="1726"/>
<use href="#rm" x="779.8" y="1721.6"/>
<use href="#rm" x="800.5" y="1716"/>
<use href="#rm" x="821.2" y="1710.4"/>
<use href="#rm" x="841.8" y="1703.5"/>
<use href="#rm" x="862.5" y="1698.3"/>
<use href="#rm" x="883.2" y="1691.8"/>
<use href="#rm" x="903.9" y="1687.3"/>
<use href="#rm" x="924.6" y="1684"/>
<use href="#rm" x="945.3" y="1680.6"/>
<use href="#rm" x="965.9" y="1676.2"/>
<use href="#rm" x="986.6" y="1672.8"/>
<use href="#rm" x="1007.3" y="1669.5"/>
<use href="#rm" x="1028" y="1667.3"/>
<use href="#rm" x="1048.7" y="1642.7"/>
<use href="#rm" x="1069.4" y="1619.3"/>
<use href="#rm" x="1090" y="1589.3"/>
<use href="#rm" x="1110.7" y="1578.1"/>
<use href="#rm" x="1131.4" y="1571.5"/>
<use href="#rm" x="1152.1" y="1566.1"/>
<use href="#rm" x="1172.8" y="1557.2"/>
<use href="#rm" x="1193.4" y="1553.8"/>
<use href="#rm" x="1214.1" y="1554.5"/>
<use href="#rm" x="1234.8" y="1555"/>
<use href="#rm" x="1255.5" y="1555"/>
<use href="#rm" x="1276.2" y="1554.5"/>
<use href="#rm" x="1296.9" y="1553.8"/>
<use href="#rm" x="1317.5" y="1552.7"/>
<use href="#rm" x="1338.2" y="1550.5"/>
<use href="#rm" x="1358.9" y="1541"/>
<use href="#rm" x="1379.6" y="1533.7"/>
<use href="#rm" x="1400.3" y="1522.7"/>
<use href="#rm" x="1420.9" y="1299.6"/>
<use href="#rm" x="1441.6" y="1286.6"/>
<use href="#rm" x="1462.3" y="1265.8"/>
<use href="#rm" x="1483" y="1251.5"/>
<use href="#rm" x="1503.7" y="1245"/>
<use href="#rm" x="1524.4" y="1242.4"/>
<use href="#rm" x="1545" y="1243.7"/>
<use href="#rm" x="1565.7" y="1243.7"/>
<use href="#rm" x="1586.4" y="1241.1"/>
<use href="#rm" x="1607.1" y="1237.2"/>
<use href="#rm" x="1627.8" y="1235.2"/>
<use href="#rm" x="1648.4" y="1230.8"/>
<text transform="translate(264.52 2045.3)" font-size="63" fill="#1e1e1e" letter-spacing="1.0">29/06</text>
<text transform="translate(471.87 2045.3)" font-size="63" fill="#1e1e1e" letter-spacing="1.0">09/07</text>
<text transform="translate(677.54 2045.3)" font-size="63" fill="#1e1e1e" letter-spacing="1.0" clip-path="url(#c1_63)">19/07</text>
<text transform="translate(885.16 2045.3)" font-size="63" fill="#1e1e1e" letter-spacing="1.0">29/07</text>
<text transform="translate(1092.15 2045.3)" font-size="63" fill="#1e1e1e" letter-spacing="1.0">08/08</text>
<text transform="translate(1297.82 2045.3)" font-size="63" fill="#1e1e1e" letter-spacing="1.0" clip-path="url(#c1_63)">18/08</text>
<text transform="translate(1505.45 2045.3)" font-size="63" fill="#1e1e1e" letter-spacing="1.0">28/08</text>
<text transform="translate(269.15 1946.4)" font-size="63" fill="#1e1e1e">0</text>
<text transform="translate(164.15 1730.7)" font-size="63" fill="#1e1e1e" clip-path="url(#c1_63)">1000</text>
<text transform="translate(164.15 1515)" font-size="63" fill="#1e1e1e">2000</text>
<text transform="translate(164.15 1299.3)" font-size="63" fill="#1e1e1e">3000</text>
<rect x="363.0" y="1210.8" width="706.3" height="220.49999999999997" fill="#fff" stroke="#202020" stroke-width="3.7"/>
<line x1="378.8" y1="1251.4" x2="494.7" y2="1251.4" stroke="#999" stroke-width="8.0"/>
<line x1="378.8" y1="1320.6" x2="494.7" y2="1320.6" stroke="#000" stroke-width="8.0"/>
<circle cx="436.7" cy="1320.6" r="8" fill="#000"/>
<line x1="378.5" y1="1389" x2="494.7" y2="1389" stroke="#f00" stroke-width="8.0" stroke-dasharray="7.7 7.06"/>
<use href="#rm" x="436.5" y="1389"/>
<text transform="translate(505.68 1272.8)" font-size="57.5" fill="#000" letter-spacing="-0.503">Model (instantaneous)</text>
<text transform="translate(505.68 1342)" font-size="57.5" fill="#000" letter-spacing="-0.611">Model (daily)</text>
<text transform="translate(505.68 1410.4)" font-size="57.5" fill="#000" letter-spacing="-0.27">Bypass parameter</text>
<text transform="translate(105.2 1928.33) rotate(-90) skewX(-21)" font-size="67" fill="#1e1e1e">Q</text>
<text transform="translate(139.1 1876.54) rotate(-90) skewX(-21)" font-size="51" fill="#1e1e1e">bypass</text>
<text transform="translate(105.2 1695.61) rotate(-90)" font-size="67" fill="#1e1e1e">(m</text>
<text transform="translate(70.9 1618.34) rotate(-90)" font-size="50" fill="#1e1e1e">3</text>
<text transform="translate(105.2 1585.69) rotate(-90)" font-size="67" fill="#1e1e1e">, cumulative</text>
<text transform="translate(105.2 1232.63) rotate(-90)" font-size="67" fill="#1e1e1e">)</text>
<text transform="translate(76.84 1177.3)" font-size="80" fill="#000">b</text>
</g>
<g id="panel-c">
<line x1="548.9" y1="2275.9" x2="548.9" y2="3071.8" stroke="rgba(38,38,38,0.15)" stroke-width="3.7"/>
<line x1="772.9" y1="2275.9" x2="772.9" y2="3071.8" stroke="rgba(38,38,38,0.15)" stroke-width="3.7"/>
<line x1="997" y1="2275.9" x2="997" y2="3071.8" stroke="rgba(38,38,38,0.15)" stroke-width="3.7"/>
<line x1="1221" y1="2275.9" x2="1221" y2="3071.8" stroke="rgba(38,38,38,0.15)" stroke-width="3.7"/>
<line x1="1445" y1="2275.9" x2="1445" y2="3071.8" stroke="rgba(38,38,38,0.15)" stroke-width="3.7"/>
<line x1="324.8" y1="2408.6" x2="1669.1" y2="2408.6" stroke="rgba(38,38,38,0.15)" stroke-width="3.7"/>
<line x1="324.8" y1="2541.2" x2="1669.1" y2="2541.2" stroke="rgba(38,38,38,0.15)" stroke-width="3.7"/>
<line x1="324.8" y1="2673.9" x2="1669.1" y2="2673.9" stroke="rgba(38,38,38,0.15)" stroke-width="3.7"/>
<line x1="324.8" y1="2806.5" x2="1669.1" y2="2806.5" stroke="rgba(38,38,38,0.15)" stroke-width="3.7"/>
<line x1="324.8" y1="2939.2" x2="1669.1" y2="2939.2" stroke="rgba(38,38,38,0.15)" stroke-width="3.7"/>
<path d="M548.9 3071.8V3056.3M548.9 2275.9V2291.4M772.9 3071.8V3056.3M772.9 2275.9V2291.4M997 3071.8V3056.3M997 2275.9V2291.4M1221 3071.8V3056.3M1221 2275.9V2291.4M1445 3071.8V3056.3M1445 2275.9V2291.4M324.8 2408.6H340.3M1669.1 2408.6H1653.6M324.8 2541.2H340.3M1669.1 2541.2H1653.6M324.8 2673.9H340.3M1669.1 2673.9H1653.6M324.8 2806.5H340.3M1669.1 2806.5H1653.6M324.8 2939.2H340.3M1669.1 2939.2H1653.6" stroke="#202020" stroke-width="3.7" fill="none"/>
<rect x="324.8" y="2275.9" width="1344.3" height="795.9" fill="none" stroke="#202020" stroke-width="3.7"/>
<circle cx="837.3" cy="2619.7" r="11.2" fill="#f00"/>
<circle cx="878.9" cy="2649.5" r="11.2" fill="#f00"/>
<circle cx="892.6" cy="2636.4" r="11.2" fill="#f00"/>
<circle cx="956.9" cy="2658.7" r="11.2" fill="#f00"/>
<circle cx="976.6" cy="2640.2" r="11.2" fill="#f00"/>
<circle cx="966.2" cy="2620.5" r="11.2" fill="#f00"/>
<circle cx="961.7" cy="2606" r="11.2" fill="#f00"/>
<circle cx="985.9" cy="2582.6" r="11.2" fill="#f00"/>
<circle cx="990.3" cy="2617.9" r="11.2" fill="#f00"/>
<circle cx="1001.5" cy="2612.3" r="11.2" fill="#f00"/>
<circle cx="1015.6" cy="2603" r="11.2" fill="#f00"/>
<circle cx="1036.7" cy="2591.9" r="11.2" fill="#f00"/>
<circle cx="1046" cy="2584.4" r="11.2" fill="#f00"/>
<circle cx="1047.9" cy="2593.7" r="11.2" fill="#f00"/>
<circle cx="1002.2" cy="2663.6" r="11.2" fill="#f00"/>
<circle cx="1045.3" cy="2635.3" r="11.2" fill="#f00"/>
<circle cx="1073.9" cy="2575.2" r="11.2" fill="#f00"/>
<circle cx="1070.2" cy="2586.3" r="11.2" fill="#f00"/>
<circle cx="1080.2" cy="2595.6" r="11.2" fill="#f00"/>
<circle cx="1078.7" cy="2630.9" r="11.2" fill="#f00"/>
<circle cx="1089.9" cy="2631.6" r="11.2" fill="#f00"/>
<circle cx="1085.8" cy="2684.7" r="11.2" fill="#f00"/>
<circle cx="1098.8" cy="2580.7" r="11.2" fill="#f00"/>
<circle cx="1108.4" cy="2564" r="11.2" fill="#f00"/>
<circle cx="1107.3" cy="2588.2" r="11.2" fill="#f00"/>
<circle cx="1118.5" cy="2603" r="11.2" fill="#f00"/>
<circle cx="1131.5" cy="2571.4" r="11.2" fill="#f00"/>
<circle cx="1166.8" cy="2534.3" r="11.2" fill="#f00"/>
<circle cx="1185.3" cy="2536.9" r="11.2" fill="#f00"/>
<circle cx="1163.1" cy="2556.6" r="11.2" fill="#f00"/>
<circle cx="1183.5" cy="2558.4" r="11.2" fill="#f00"/>
<circle cx="1211.3" cy="2533.2" r="11.2" fill="#f00"/>
<circle cx="1231.8" cy="2539.9" r="11.2" fill="#f00"/>
<circle cx="1239.2" cy="2561" r="11.2" fill="#f00"/>
<circle cx="1265.4" cy="2533" r="11.2" fill="#f00"/>
<circle cx="1315.6" cy="2472.5" r="11.2" fill="#f00"/>
<circle cx="1293.3" cy="2555.3" r="11.2" fill="#f00"/>
<circle cx="1185.5" cy="2579" r="11.2" fill="#f00"/>
<circle cx="1195" cy="2561" r="11.2" fill="#f00"/>
<circle cx="430.8" cy="2984.3" r="11.2" fill="#009e7f"/>
<circle cx="446" cy="2984.3" r="11.2" fill="#009e7f"/>
<circle cx="450.4" cy="2960.1" r="11.2" fill="#009e7f"/>
<circle cx="460.8" cy="2960.9" r="11.2" fill="#009e7f"/>
<circle cx="482" cy="2931.2" r="11.2" fill="#009e7f"/>
<circle cx="495" cy="2931.2" r="11.2" fill="#009e7f"/>
<circle cx="519.2" cy="2931.2" r="11.2" fill="#009e7f"/>
<circle cx="530.3" cy="2931.2" r="11.2" fill="#009e7f"/>
<circle cx="537.7" cy="2937.9" r="11.2" fill="#009e7f"/>
<circle cx="557.1" cy="2939.3" r="11.2" fill="#009e7f"/>
<circle cx="537.7" cy="2893.3" r="11.2" fill="#009e7f"/>
<circle cx="547" cy="2892.5" r="11.2" fill="#009e7f"/>
<circle cx="535.9" cy="2969.1" r="11.2" fill="#009e7f"/>
<circle cx="552.6" cy="2969.1" r="11.2" fill="#009e7f"/>
<circle cx="578.6" cy="2894" r="11.2" fill="#009e7f"/>
<circle cx="587.9" cy="2895.9" r="11.2" fill="#009e7f"/>
<circle cx="597.2" cy="2892.2" r="11.2" fill="#009e7f"/>
<circle cx="608.3" cy="2895.9" r="11.2" fill="#009e7f"/>
<circle cx="617.6" cy="2895.9" r="11.2" fill="#009e7f"/>
<circle cx="639.9" cy="2896.6" r="11.2" fill="#009e7f"/>
<circle cx="594.6" cy="2859.9" r="11.2" fill="#009e7f"/>
<circle cx="622.4" cy="2859.9" r="11.2" fill="#009e7f"/>
<circle cx="631.7" cy="2839.4" r="11.2" fill="#009e7f"/>
<circle cx="662.2" cy="2839.4" r="11.2" fill="#009e7f"/>
<circle cx="676.3" cy="2817.9" r="11.2" fill="#009e7f"/>
<circle cx="693.8" cy="2778.1" r="11.2" fill="#009e7f"/>
<circle cx="716" cy="2816.8" r="11.2" fill="#009e7f"/>
<circle cx="735.4" cy="2831.6" r="11.2" fill="#009e7f"/>
<circle cx="765.5" cy="2749.2" r="11.2" fill="#009e7f"/>
<circle cx="776.2" cy="2778.1" r="11.2" fill="#009e7f"/>
<circle cx="778.1" cy="2817.9" r="11.2" fill="#009e7f"/>
<circle cx="805.3" cy="2543.6" r="11.2" fill="#009e7f"/>
<circle cx="854.7" cy="2749" r="11.2" fill="#009e7f"/>
<circle cx="875.2" cy="2749" r="11.2" fill="#009e7f"/>
<circle cx="1060.1" cy="2749" r="11.2" fill="#009e7f"/>
<circle cx="1111" cy="2572.2" r="11.2" fill="#009e7f"/>
<circle cx="1137" cy="2571.4" r="11.2" fill="#009e7f"/>
<circle cx="1159.3" cy="2543.6" r="11.2" fill="#009e7f"/>
<circle cx="1120.3" cy="2599.3" r="11.2" fill="#009e7f"/>
<circle cx="1135.2" cy="2600.4" r="11.2" fill="#009e7f"/>
<circle cx="1159.3" cy="2599.3" r="11.2" fill="#009e7f"/>
<circle cx="1178.6" cy="2600.4" r="11.2" fill="#009e7f"/>
<circle cx="1179.8" cy="2575.2" r="11.2" fill="#009e7f"/>
<circle cx="1203.9" cy="2578.9" r="11.2" fill="#009e7f"/>
<circle cx="1220.6" cy="2579.6" r="11.2" fill="#009e7f"/>
<circle cx="1213.2" cy="2544.6" r="11.2" fill="#009e7f"/>
<circle cx="1242.9" cy="2549.9" r="11.2" fill="#009e7f"/>
<circle cx="1233.6" cy="2557.3" r="11.2" fill="#009e7f"/>
<circle cx="1222.5" cy="2558.4" r="11.2" fill="#009e7f"/>
<circle cx="1423.3" cy="2417.9" r="11.2" fill="#009e7f"/>
<circle cx="1436.3" cy="2419.7" r="11.2" fill="#009e7f"/>
<circle cx="1445.6" cy="2419" r="11.2" fill="#009e7f"/>
<circle cx="1412.2" cy="2431.6" r="11.2" fill="#009e7f"/>
<circle cx="1464.2" cy="2432.7" r="11.2" fill="#009e7f"/>
<circle cx="1473.5" cy="2435.7" r="11.2" fill="#009e7f"/>
<circle cx="1378.7" cy="2430.1" r="11.2" fill="#009e7f"/>
<circle cx="1388" cy="2430.1" r="11.2" fill="#009e7f"/>
<circle cx="1330.4" cy="2453.9" r="11.2" fill="#009e7f"/>
<circle cx="1337.9" cy="2455" r="11.2" fill="#009e7f"/>
<circle cx="1352.7" cy="2453.2" r="11.2" fill="#009e7f"/>
<circle cx="1362" cy="2455.8" r="11.2" fill="#009e7f"/>
<circle cx="1373.2" cy="2450.2" r="11.2" fill="#009e7f"/>
<circle cx="1279.6" cy="2495.9" r="11.2" fill="#009e7f"/>
<circle cx="1289.6" cy="2495.9" r="11.2" fill="#009e7f"/>
<circle cx="1323" cy="2492.2" r="11.2" fill="#009e7f"/>
<circle cx="1269.2" cy="2525.6" r="11.2" fill="#009e7f"/>
<circle cx="1287" cy="2525.6" r="11.2" fill="#009e7f"/>
<line x1="430.8" y1="2984.3" x2="1473.5" y2="2410.4" stroke="#f00" stroke-width="8.0" stroke-linecap="round"/>
<line x1="324.8" y1="3071.8" x2="1669.1" y2="2275.9" stroke="#666" stroke-width="8.0" stroke-dasharray="7.9 6.84"/>
<text transform="translate(276.97 2277.4)" font-size="48" fill="#1e1e1e">6</text>
<text transform="translate(206.95 2307.6)" font-size="63" fill="#1e1e1e" clip-path="url(#c1_63)">10</text>
<text transform="translate(276.21 2410.05)" font-size="48" fill="#1e1e1e">4</text>
<text transform="translate(206.95 2440.25)" font-size="63" fill="#1e1e1e" clip-path="url(#c1_63)">10</text>
<text transform="translate(277.22 2542.7)" font-size="48" fill="#1e1e1e">2</text>
<text transform="translate(206.95 2572.9)" font-size="63" fill="#1e1e1e" clip-path="url(#c1_63)">10</text>
<text transform="translate(269.15 2697.25)" font-size="63" fill="#1e1e1e">0</text>
<text transform="translate(277.22 2808)" font-size="48" fill="#1e1e1e">2</text>
<text transform="translate(206.95 2838.2)" font-size="63" fill="#1e1e1e" clip-path="url(#c1_63)">10</text>
<text transform="translate(182.02 2838.2)" font-size="63" fill="#1e1e1e" textLength="24.55" lengthAdjust="spacingAndGlyphs">-</text>
<text transform="translate(276.21 2940.65)" font-size="48" fill="#1e1e1e">4</text>
<text transform="translate(206.95 2970.85)" font-size="63" fill="#1e1e1e" clip-path="url(#c1_63)">10</text>
<text transform="translate(182.02 2970.85)" font-size="63" fill="#1e1e1e" textLength="24.55" lengthAdjust="spacingAndGlyphs">-</text>
<text transform="translate(276.97 3073.3)" font-size="48" fill="#1e1e1e">6</text>
<text transform="translate(206.95 3103.5)" font-size="63" fill="#1e1e1e" clip-path="url(#c1_63)">10</text>
<text transform="translate(182.02 3103.5)" font-size="63" fill="#1e1e1e" textLength="24.55" lengthAdjust="spacingAndGlyphs">-</text>
<text transform="translate(358.37 3137.3)" font-size="48" fill="#1e1e1e">6</text>
<text transform="translate(288.35 3167.5)" font-size="63" fill="#1e1e1e" clip-path="url(#c1_63)">10</text>
<text transform="translate(263.42 3167.5)" font-size="63" fill="#1e1e1e" textLength="24.55" lengthAdjust="spacingAndGlyphs">-</text>
<text transform="translate(581.66 3137.3)" font-size="48" fill="#1e1e1e">4</text>
<text transform="translate(512.4 3167.5)" font-size="63" fill="#1e1e1e" clip-path="url(#c1_63)">10</text>
<text transform="translate(487.47 3167.5)" font-size="63" fill="#1e1e1e" textLength="24.55" lengthAdjust="spacingAndGlyphs">-</text>
<text transform="translate(806.72 3137.3)" font-size="48" fill="#1e1e1e">2</text>
<text transform="translate(736.45 3167.5)" font-size="63" fill="#1e1e1e" clip-path="url(#c1_63)">10</text>
<text transform="translate(711.52 3167.5)" font-size="63" fill="#1e1e1e" textLength="24.55" lengthAdjust="spacingAndGlyphs">-</text>
<text transform="translate(979.43 3152.1)" font-size="63" fill="#1e1e1e">0</text>
<text transform="translate(1241.52 3137.3)" font-size="48" fill="#1e1e1e">2</text>
<text transform="translate(1171.25 3167.5)" font-size="63" fill="#1e1e1e" clip-path="url(#c1_63)">10</text>
<text transform="translate(1464.56 3137.3)" font-size="48" fill="#1e1e1e">4</text>
<text transform="translate(1395.3 3167.5)" font-size="63" fill="#1e1e1e" clip-path="url(#c1_63)">10</text>
<text transform="translate(1689.37 3137.3)" font-size="48" fill="#1e1e1e">6</text>
<text transform="translate(1619.35 3167.5)" font-size="63" fill="#1e1e1e" clip-path="url(#c1_63)">10</text>
<rect x="363.0" y="2315.0" width="829.4000000000001" height="151.0" fill="#fff" stroke="#202020" stroke-width="3.7"/>
<circle cx="436.5" cy="2355.5" r="11.2" fill="#f00"/>
<circle cx="436.5" cy="2424.3" r="11.2" fill="#009e7f"/>
<text transform="translate(507.46 2376.7)" font-size="57.5" fill="#000" letter-spacing="-0.392">Obs. period (Jul-Aug 2016)</text>
<text transform="translate(507.36 2444.9)" font-size="57.5" fill="#000" letter-spacing="-0.516">Synth. data (Table 2)</text>
<text transform="translate(991.73 2908.1) skewX(-21)" font-size="70" fill="#000">R</text>
<text transform="translate(1042.72 2873) skewX(-21)" font-size="55" fill="#000">2</text>
<text transform="translate(1077.29 2908.1)" font-size="70" fill="#000">=0.95</text>
<text transform="translate(125 2827.13) rotate(-90) skewX(-21)" font-size="67" fill="#1e1e1e">Q</text>
<text transform="translate(158.9 2775.34) rotate(-90) skewX(-21)" font-size="51" fill="#1e1e1e">bypass</text>
<text transform="translate(125 2594.41) rotate(-90)" font-size="67" fill="#1e1e1e">(m</text>
<text transform="translate(90.7 2517.14) rotate(-90)" font-size="50" fill="#1e1e1e">3</text>
<text transform="translate(125 2469.05) rotate(-90)" font-size="67" fill="#1e1e1e">day</text>
<text transform="translate(90.7 2358.94) rotate(-90)" font-size="50" fill="#1e1e1e" textLength="19.49" lengthAdjust="spacingAndGlyphs">-</text>
<text transform="translate(90.7 2340.4) rotate(-90)" font-size="50" fill="#1e1e1e" clip-path="url(#c1_50)">1</text>
<text transform="translate(125 2312.95) rotate(-90)" font-size="67" fill="#1e1e1e">)</text>
<text transform="translate(125 3056.82) rotate(-90)" font-size="67" fill="#1e1e1e">Param.</text>
<text transform="translate(996.27 3269.5) skewX(-21)" font-size="67" fill="#1e1e1e">Q</text>
<text transform="translate(1048.06 3303.4) skewX(-21)" font-size="51" fill="#1e1e1e">bypass</text>
<text transform="translate(1228.99 3269.5)" font-size="67" fill="#1e1e1e">(m</text>
<text transform="translate(1306.26 3235.2)" font-size="50" fill="#1e1e1e">3</text>
<text transform="translate(1354.35 3269.5)" font-size="67" fill="#1e1e1e">day</text>
<text transform="translate(1464.46 3235.2)" font-size="50" fill="#1e1e1e" textLength="19.49" lengthAdjust="spacingAndGlyphs">-</text>
<text transform="translate(1483 3235.2)" font-size="50" fill="#1e1e1e" clip-path="url(#c1_50)">1</text>
<text transform="translate(1510.45 3269.5)" font-size="67" fill="#1e1e1e">)</text>
<text transform="translate(463.44 3269.5)" font-size="67.5" fill="#1e1e1e">Delft3D modelled</text>
<text transform="translate(77.7 2265.1)" font-size="80" fill="#000">c</text>
</g>
</svg></body></html>
